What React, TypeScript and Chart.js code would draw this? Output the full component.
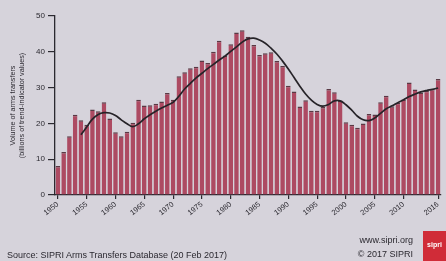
import React, { useEffect, useRef } from "react";
import { Chart, registerables } from "chart.js";

Chart.register(...registerables);

const years = [
  "1950","1951","1952","1953","1954","1955","1956","1957","1958","1959",
  "1960","1961","1962","1963","1964","1965","1966","1967","1968","1969",
  "1970","1971","1972","1973","1974","1975","1976","1977","1978","1979",
  "1980","1981","1982","1983","1984","1985","1986","1987","1988","1989",
  "1990","1991","1992","1993","1994","1995","1996","1997","1998","1999",
  "2000","2001","2002","2003","2004","2005","2006","2007","2008","2009",
  "2010","2011","2012","2013","2014","2015","2016",
];

const annualVolume = [
  8.1, 12.0, 16.4, 22.4, 20.9, 19.6, 23.9, 23.4, 25.9, 21.4,
  17.5, 16.4, 17.7, 20.2, 26.6, 25.0, 25.1, 25.5, 26.1, 28.5,
  26.6, 33.2, 34.3, 35.4, 35.8, 37.6, 36.9, 40.0, 43.1, 39.0,
  42.1, 45.4, 46.0, 44.2, 41.9, 39.1, 39.6, 39.9, 37.4, 36.0,
  30.5, 28.9, 24.7, 26.5, 23.5, 23.5, 24.6, 29.6, 28.7, 26.4,
  20.3, 19.6, 18.8, 20.0, 22.6, 22.5, 25.9, 27.7, 24.8, 25.8,
  26.7, 31.4, 29.5, 28.6, 29.1, 29.6, 32.4,
];

const averageLine = [
  null, null, null, null, 16.8, 19.0, 21.2, 22.5, 23.0, 22.9,
  22.2, 21.0, 19.9, 19.1, 19.9, 21.3, 22.4, 23.4, 24.3, 25.1,
  25.9, 27.6, 29.6, 31.2, 32.7, 34.0, 35.3, 36.5, 37.7, 38.8,
  40.1, 41.4, 42.7, 43.6, 43.8, 43.3, 42.4, 41.0, 39.4, 37.4,
  35.2, 32.8, 30.4, 28.2, 26.5, 25.3, 24.8, 25.3, 26.3, 26.3,
  25.2, 23.7, 22.0, 21.0, 20.8, 21.5, 22.8, 24.1, 24.9, 25.8,
  26.6, 27.5, 28.2, 28.8, 29.2, 29.5, 29.9,
];

const xTickLabels = [
  "1950","1955","1960","1965","1970","1975","1980","1985","1990","1995",
  "2000","2005","2010","2016",
];

const yTitle = ["Volume of arms transfers", "(billions of trend-indicator values)"];

const sourceText = "Source: SIPRI Arms Transfers Database (20 Feb 2017)";
const siteText = "www.sipri.org";
const copyText = "\u00a9 2017 SIPRI";
const logoText = "sipri";

const FONT = "'Liberation Sans', Arial, sans-serif";
const INK = "#2b2930";

export default function App() {
  const ref = useRef<HTMLCanvasElement | null>(null);

  useEffect(() => {
    if (!ref.current) return;
    const chart = new Chart(ref.current, {
      type: "bar",
      data: {
        labels: years,
        datasets: [
          {
            type: "line",
            data: averageLine,
            borderColor: "#262328",
            borderWidth: 1.7,
            pointRadius: 0,
            tension: 0.4,
            spanGaps: false,
            order: 0,
          } as any,
          {
            type: "bar",
            data: annualVolume,
            backgroundColor: "#ad4a62",
            borderColor: "#5a3944",
            borderWidth: { top: 1.5, left: 0, right: 0, bottom: 0 },
            borderSkipped: "start",
            barPercentage: 0.8,
            categoryPercentage: 1,
            order: 1,
          } as any,
        ],
      },
      options: {
        animation: false,
        responsive: false,
        maintainAspectRatio: false,
        layout: { padding: { left: 0, top: 16, right: 5, bottom: 38 } },
        plugins: { legend: { display: false }, tooltip: { enabled: false } },
        scales: {
          x: {
            afterFit: (s: any) => {
              s.height = 28;
            },
            border: { display: true, color: INK, width: 1.3 },
            grid: {
              drawOnChartArea: false,
              drawTicks: true,
              offset: false,
              tickLength: 4,
              lineWidth: 1.2,
              color: (ctx: any) =>
                xTickLabels.includes(years[ctx.index]) ? INK : "rgba(0,0,0,0)",
            },
            ticks: {
              autoSkip: false,
              maxRotation: 38,
              minRotation: 38,
              padding: 1,
              color: INK,
              font: { family: FONT, size: 7.5 },
              callback: (_v: any, i: number) =>
                xTickLabels.includes(years[i]) ? years[i] : "",
            },
          },
          y: {
            min: 0,
            max: 50,
            afterFit: (s: any) => {
              s.width = 55;
            },
            border: { display: true, color: INK, width: 1.3 },
            grid: {
              drawOnChartArea: false,
              drawTicks: true,
              tickLength: 7,
              lineWidth: 1.2,
              color: INK,
            },
            ticks: {
              stepSize: 10,
              padding: 3,
              color: INK,
              font: { family: FONT, size: 8 },
            },
            title: {
              display: true,
              text: yTitle,
              color: INK,
              font: { family: FONT, size: 7.2 },
              padding: { top: 9, bottom: 0 },
            },
          },
        },
      },
    });
    return () => chart.destroy();
  }, []);

  return (
    <div
      style={{
        position: "fixed",
        left: 0,
        top: 0,
        width: 446,
        height: 261,
        background: "#d6d3db",
        overflow: "hidden",
        fontFamily: FONT,
        color: INK,
      }}
    >
      <canvas ref={ref} width={446} height={261} style={{ position: "absolute", left: 0, top: 0 }} />
      <div style={{ position: "absolute", left: 7, top: 250, fontSize: 9, whiteSpace: "nowrap" }}>
        {sourceText}
      </div>
      <div style={{ position: "absolute", right: 33, top: 235, fontSize: 9, whiteSpace: "nowrap" }}>
        {siteText}
      </div>
      <div style={{ position: "absolute", right: 33, top: 249, fontSize: 9, whiteSpace: "nowrap" }}>
        {copyText}
      </div>
      <div
        style={{
          position: "absolute",
          left: 423,
          top: 231,
          width: 23,
          height: 30,
          background: "#d02c38",
          color: "#ffffff",
          fontSize: 7,
          fontWeight: "bold",
          lineHeight: "28px",
          textAlign: "center",
          overflow: "hidden",
        }}
      >
        {logoText}
      </div>
    </div>
  );
}
